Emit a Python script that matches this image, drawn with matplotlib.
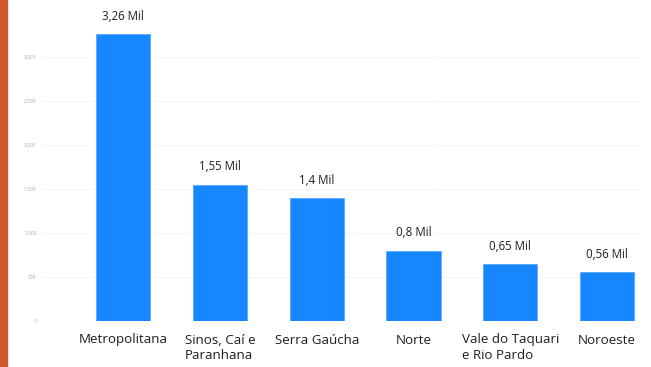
import matplotlib
matplotlib.use("Agg")
import matplotlib.pyplot as plt
from matplotlib.patches import Rectangle

regioes = ["Metropolitana", "Sinos, Caí e\nParanhana", "Serra Gaúcha", "Norte",
           "Vale do Taquari\ne Rio Pardo", "Noroeste"]
valores = [3260, 1550, 1400, 800, 650, 560]
rotulos = ["3,26 Mil", "1,55 Mil", "1,4 Mil", "0,8 Mil", "0,65 Mil", "0,56 Mil"]
yticks = [0, 500, 1000, 1500, 2000, 2500, 3000]
ytick_labels = ["0", "500", "1.000", "1.500", "2.000", "2.500", "3.000"]

plt.rcParams['font.family'] = ['Open Sans', 'DejaVu Sans']

fig = plt.figure(figsize=(6.51, 3.67), dpi=100)
ax = fig.add_axes([42/651, 1 - 321/367, 598/651, 308/367])

x = range(len(valores))
bars = ax.bar(x, valores, width=0.56, color='#1787ff', edgecolor='#5aa8ff', linewidth=0.6, zorder=3)
for b, lab in zip(bars, rotulos):
    ax.annotate(lab, (b.get_x() + b.get_width() / 2, b.get_height()),
                xytext=(0, 8), textcoords='offset points', ha='center', va='bottom',
                fontsize=8.3, color='#1e1e1e')

ax.set_xlim(-0.84, 5.34)
ax.set_ylim(0, 3500)
ax.set_yticks(yticks)
ax.set_yticklabels(ytick_labels, fontsize=3.5, color='#aaaaaa')
ax.set_xticks(list(x))
ax.set_xticklabels(regioes, fontsize=9.6, color='#1e1e1e', va='top', ha='center',
                   multialignment='left', linespacing=1.25)
ax.tick_params(axis='both', length=0)
ax.tick_params(axis='x', pad=9)
ax.tick_params(axis='y', pad=4)
ax.grid(axis='y', linestyle=':', color='#dddddd', linewidth=0.6, zorder=0)
for s in ax.spines.values():
    s.set_visible(False)

fig.patches.append(Rectangle((0, 0), 7/651, 1, transform=fig.transFigure,
                             color='#d0572a', zorder=0))

fig.savefig("out.png", dpi=100)
